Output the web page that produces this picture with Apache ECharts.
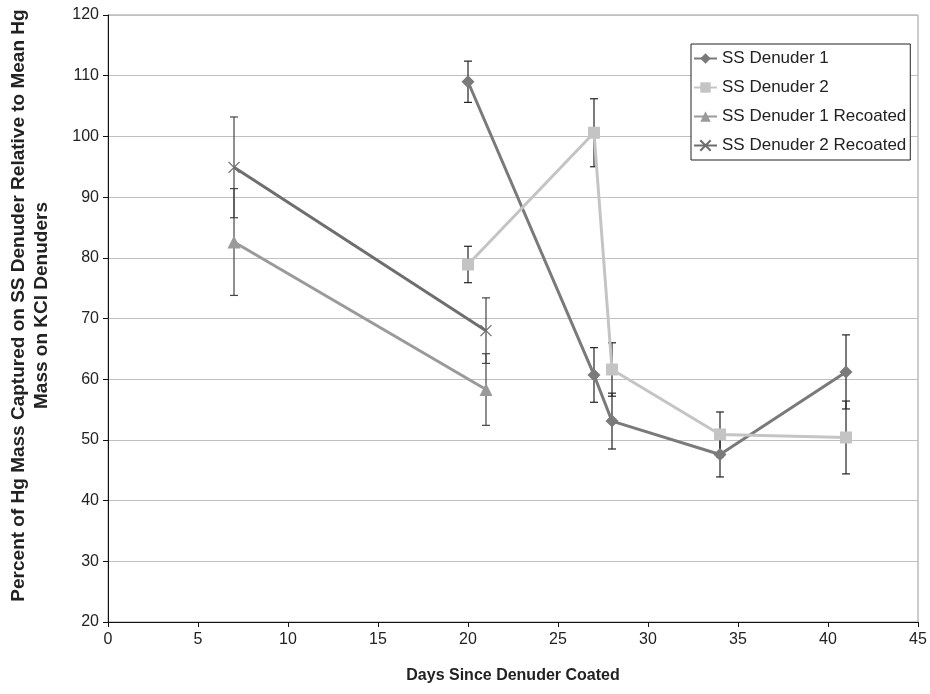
<!DOCTYPE html>
<html><head><meta charset="utf-8">
<script src="https://cdn.jsdelivr.net/npm/echarts@6/dist/echarts.min.js"></script>
<style>html,body{margin:0;padding:0;background:#fff}#c{width:930px;height:694px}</style>
</head><body><div id="c"></div>
<script>
const seriesNames = ['SS Denuder 1','SS Denuder 2','SS Denuder 1 Recoated','SS Denuder 2 Recoated'];
const ss1Days = [20,27,28,34,41];
const ss1Vals = [109.0,60.7,53.1,47.6,61.2];
const ss1Err  = [3.4,4.5,4.6,3.7,6.1];
const ss2Days = [20,27,28,34,41];
const ss2Vals = [78.9,100.6,61.6,50.9,50.4];
const ss2Err  = [3.0,5.6,4.4,3.7,6.0];
const rc1Days = [7,21];
const rc1Vals = [82.6,58.3];
const rc1Err  = [8.8,5.9];
const rc2Days = [7,21];
const rc2Vals = [94.9,68.0];
const rc2Err  = [8.3,5.4];
const xTicks = [0,5,10,15,20,25,30,35,40,45];
const yTicks = [20,30,40,50,60,70,80,90,100,110,120];

const colors = ['#7a7a7a','#c4c4c4','#9a9a9a','#6e6e6e'];
const font = 'Liberation Sans, Arial, sans-serif';

function pts(d,v){return d.map((x,i)=>[x,v[i]]);}
function errData(d,v,e){return d.map((x,i)=>[x,v[i]-e[i],v[i]+e[i]]);}

function errSeries(d,v,e,color){
  return {
    type:'custom', z:3, silent:true,
    data: errData(d,v,e),
    renderItem:function(params,api){
      const x=api.value(0), lo=api.value(1), hi=api.value(2);
      const p1=api.coord([x,lo]), p2=api.coord([x,hi]);
      const w=4;
      const st={stroke:color,lineWidth:1.2};
      return {type:'group',children:[
        {type:'line',shape:{x1:p1[0],y1:p1[1],x2:p2[0],y2:p2[1]},style:st},
        {type:'line',shape:{x1:p1[0]-w,y1:p1[1],x2:p1[0]+w,y2:p1[1]},style:st},
        {type:'line',shape:{x1:p2[0]-w,y1:p2[1],x2:p2[0]+w,y2:p2[1]},style:st}
      ]};
    }
  };
}

function lineSeries(name,d,v,color,symbol,size,extra){
  return Object.assign({
    name:name, type:'line', z:4, data:pts(d,v),
    symbol:symbol, symbolSize:size,
    lineStyle:{color:color,width:3},
    itemStyle:{color:color},
    emphasis:{disabled:true}
  },extra||{});
}

const chart = echarts.init(document.getElementById('c'),null,{renderer:'canvas'});
chart.setOption({
  animation:false,
  backgroundColor:'#fff',
  textStyle:{fontFamily:font},
  grid:{left:108,right:12,top:15,bottom:72,show:true,borderColor:'#999',borderWidth:1,
        containLabel:false,outerBoundsMode:'none'},
  legend:{
    data:seriesNames,
    left:691, top:44, orient:'vertical',
    itemWidth:23, itemHeight:13, itemGap:12,
    padding:[6,4,6,2],
    backgroundColor:'#fff', borderColor:'#222', borderWidth:1,
    textStyle:{fontSize:17,color:'#222',fontFamily:font,lineHeight:17},
  },
  xAxis:{
    type:'value', min:0, max:45, interval:5,
    axisLine:{show:true,lineStyle:{color:'#111',width:1}},
    axisTick:{show:true,length:5,lineStyle:{color:'#111'}},
    axisLabel:{fontSize:16,color:'#222',margin:10,fontFamily:font},
    splitLine:{show:false},
    name:'Days Since Denuder Coated', nameLocation:'middle', nameGap:46,
    nameTextStyle:{fontSize:16,fontWeight:'bold',color:'#222',fontFamily:font}
  },
  yAxis:{
    type:'value', min:20, max:120, interval:10,
    axisLine:{show:true,lineStyle:{color:'#111',width:1}},
    axisTick:{show:true,length:5,lineStyle:{color:'#111'}},
    axisLabel:{fontSize:16,color:'#222',margin:9,fontFamily:font},
    splitLine:{show:true,lineStyle:{color:'#c0c0c0',width:1}},
    name:'Percent of Hg Mass Captured on SS Denuder Relative to Mean Hg\nMass on KCl Denuders',
    nameLocation:'middle', nameGap:55,
    nameTextStyle:{fontSize:19,fontWeight:'bold',color:'#222',lineHeight:23,fontFamily:font,
                   padding:[0,0,0,26]}
  },
  series:[
    errSeries(ss1Days,ss1Vals,ss1Err,'#222'),
    errSeries(ss2Days,ss2Vals,ss2Err,'#222'),
    errSeries(rc1Days,rc1Vals,rc1Err,'#444'),
    errSeries(rc2Days,rc2Vals,rc2Err,'#444'),
    lineSeries(seriesNames[0],ss1Days,ss1Vals,colors[0],'diamond',13),
    lineSeries(seriesNames[1],ss2Days,ss2Vals,colors[1],'rect',12),
    lineSeries(seriesNames[2],rc1Days,rc1Vals,colors[2],'triangle',13),
    lineSeries(seriesNames[3],rc2Days,rc2Vals,colors[3],'path://M0,0L10,10M10,0L0,10',11,
      {itemStyle:{color:'none',borderColor:colors[3],borderWidth:1.3}})
  ]
});
</script></body></html>
